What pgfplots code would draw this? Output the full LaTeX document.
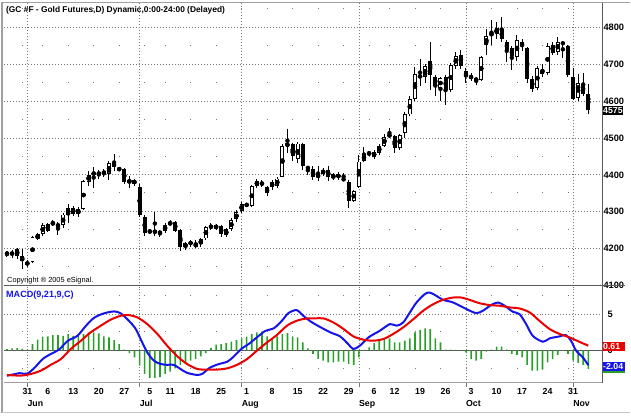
\documentclass[border=0pt]{standalone}
\usepackage{pgfplots}
\pgfplotsset{compat=1.18}
\usepackage{pgfplotstable}
\usepackage{fontspec}
\setmainfont{Liberation Sans}
\definecolor{gridgray}{RGB}{120,120,120}
\definecolor{framegray}{RGB}{160,160,160}
\definecolor{axisgray}{RGB}{90,90,90}
\definecolor{macdblue}{RGB}{20,20,235}
\definecolor{sigred}{RGB}{235,0,0}
\definecolor{histgreen}{RGB}{40,160,40}
\newcommand{\labfont}{\bfseries\fontsize{9.3}{11}\selectfont}
\newcommand{\boxfont}{\bfseries\fontsize{8.8}{10}\selectfont}
\newcommand{\datefont}{\bfseries\fontsize{8.8}{10}\selectfont}

\pgfplotstableread{
i O H L C
0 4182 4194 4176 4190
1 4190 4196 4175 4183
2 4180 4202 4172 4199
3 4180 4198 4143 4166
4 4164 4168 4150 4155
5 4163 4233 4160 4230
6 4226 4242 4222 4238
7 4240 4270 4234 4263
8 4265 4268 4244 4248
9 4266 4276 4262 4270
10 4262 4272 4236 4263
11 4263 4297 4255 4292
12 4291 4322 4268 4310
13 4311 4314 4288 4293
14 4293 4312 4285 4308
15 4308 4385 4305 4382
16 4381 4410 4370 4400
17 4402 4420 4365 4405
18 4407 4412 4390 4401
19 4410 4415 4393 4403
20 4402 4438 4385 4433
21 4432 4457 4410 4422
22 4412 4421 4410 4419
23 4416 4418 4375 4380
24 4378 4398 4365 4387
25 4387 4390 4370 4374
26 4367 4375 4285 4290
27 4286 4290 4235 4243
28 4246 4252 4241 4245
29 4245 4300 4235 4246
30 4246 4250 4232 4240
31 4247 4268 4242 4264
32 4264 4277 4260 4272
33 4271 4275 4245 4247
34 4250 4252 4192 4203
35 4203 4218 4195 4214
36 4218 4224 4205 4211
37 4214 4222 4200 4203
38 4211 4228 4204 4225
39 4227 4262 4224 4259
40 4263 4268 4250 4255
41 4255 4266 4250 4262
42 4261 4264 4232 4238
43 4236 4255 4230 4252
44 4252 4282 4248 4277
45 4279 4305 4272 4298
46 4303 4326 4295 4320
47 4319 4324 4312 4318
48 4316 4373 4313 4370
49 4370 4390 4365 4382
50 4378 4385 4368 4374
51 4367 4370 4343 4350
52 4380 4385 4360 4368
53 4369 4395 4364 4390
54 4395 4485 4393 4478
55 4477 4525 4460 4486
56 4485 4487 4437 4450
57 4442 4488 4432 4485
58 4485 4487 4412 4424
59 4420 4425 4400 4418
60 4416 4423 4385 4395
61 4393 4425 4382 4401
62 4403 4418 4398 4413
63 4412 4425 4382 4395
64 4391 4405 4385 4401
65 4401 4408 4385 4393
66 4388 4406 4384 4387
67 4381 4386 4310 4330
68 4330 4358 4325 4355
69 4367 4455 4365 4436
70 4437 4475 4435 4457
71 4458 4465 4450 4459
72 4449 4467 4443 4462
73 4460 4485 4455 4478
74 4478 4510 4475 4503
75 4506 4527 4500 4508
76 4506 4508 4460 4473
77 4474 4512 4468 4508
78 4514 4570 4500 4565
79 4564 4613 4560 4605
80 4606 4693 4600 4674
81 4667 4714 4642 4668
82 4667 4700 4650 4696
83 4708 4760 4631 4672
84 4667 4670 4615 4642
85 4636 4667 4600 4663
86 4666 4670 4590 4630
87 4630 4705 4625 4698
88 4695 4735 4688 4722
89 4726 4738 4688 4695
90 4681 4690 4650 4666
91 4669 4676 4655 4663
92 4655 4666 4645 4663
93 4658 4722 4655 4720
94 4753 4795 4726 4777
95 4781 4820 4753 4783
96 4782 4815 4770 4798
97 4796 4830 4760 4768
98 4760 4767 4707 4740
99 4744 4751 4685 4722
100 4720 4780 4710 4766
101 4762 4768 4737 4749
102 4744 4747 4650 4661
103 4661 4668 4624 4634
104 4636 4695 4630 4690
105 4686 4700 4665 4675
106 4678 4757 4670 4750
107 4753 4762 4725 4731
108 4734 4775 4725 4760
109 4760 4764 4718 4755
110 4749 4752 4666 4672
111 4666 4690 4602 4606
112 4609 4675 4601 4650
113 4647 4677 4614 4620
114 4620 4647 4565 4575
}\candles

\pgfplotstableread{
i h
0 0.15
1 0.27
2 0.3
3 0.2
4 0.1
5 0.87
6 1.47
7 1.88
8 1.93
9 2.1
10 2.1
11 2.0
12 2.25
13 2.0
14 2.0
15 2.25
16 2.48
17 2.48
18 2.34
19 1.93
20 1.79
21 1.42
22 0.87
23 0.1
24 -0.37
25 -0.96
26 -2.1
27 -3.26
28 -3.8
29 -3.85
30 -3.7
31 -3.26
32 -2.94
33 -2.48
34 -2.0
35 -1.74
36 -1.42
37 -1.19
38 -0.83
39 -0.37
40 0.32
41 0.78
42 0.87
43 1.0
44 1.19
45 1.42
46 1.65
47 1.88
48 2.25
49 2.48
50 2.57
51 1.93
52 1.65
53 1.93
54 2.25
55 2.39
56 1.93
57 1.79
58 1.1
59 0.28
60 -0.5
61 -1.19
62 -1.42
63 -1.65
64 -1.65
65 -1.56
66 -1.56
67 -1.88
68 -2.0
69 -0.96
70 0.05
71 0.41
72 1.0
73 1.33
74 1.56
75 1.65
76 1.1
77 1.1
78 1.33
79 1.65
80 2.48
81 2.84
82 3.03
83 2.94
84 1.65
85 1.1
86 0.09
87 0.09
88 0.05
89 0.02
90 -0.28
91 -1.19
92 -1.42
93 -1.19
94 -0.18
95 0.09
96 0.5
97 0.5
98 0.09
99 -0.5
100 -0.64
101 -0.96
102 -2.0
103 -2.8
104 -2.8
105 -2.66
106 -1.65
107 -1.19
108 -0.64
109 -0.05
110 -0.5
111 -1.42
112 -1.74
113 -2.0
114 -2.57
}\hist

\pgfplotstableread{
x y
0 -3.5
1.4 -3.3
2.4 -3.15
4 -3.2
5.4 -2.4
7 -1.2
8.6 -0.5
10.2 0.1
11.9 1.3
13.8 2.0
15.5 3.4
17.1 4.5
19 5.1
21 5.37
22.3 5.1
23.9 4.08
25.2 3.0
26.2 1.56
27.5 -0.28
28.8 -1.42
30.1 -1.88
31.4 -2.0
32.7 -2.0
34.0 -2.57
35.3 -3.1
37.3 -3.4
38.4 -3.2
39.6 -2.48
41.2 -1.97
43.2 -1.56
44.5 -0.83
46.1 0.28
47.4 0.87
49 1.79
50.7 2.7
52.3 3.03
53.9 4.08
55.2 5.14
56.8 5.55
58.1 4.77
59.5 4.0
61.2 3.3
63.4 2.48
65.3 1.93
66.9 0.87
67.9 0.18
69.2 0.64
70.9 1.79
73.1 2.7
75.1 3.62
76.4 3.4
77.7 3.85
79 5.23
80.3 6.6
81.9 7.75
82.9 7.98
84.2 7.52
85.5 6.97
87.5 6.6
90.1 5.69
92 5.14
93.3 5.46
95 6.28
96.3 6.6
97.6 6.15
99.2 5.32
100.5 5.0
101.8 3.62
103.1 2.0
105.1 1.19
106.4 1.65
108.4 1.93
109.6 2.1
110.6 1.33
111.6 -0.05
112.9 -0.96
114 -2.04
}\macd

\pgfplotstableread{
x y
0 -3.4
2.7 -3.49
4.7 -3.26
6.65 -2.8
8.6 -2.0
10.6 -1.19
12.5 0.18
14.5 1.33
16.4 2.48
18.4 3.4
20.3 4.22
22.3 4.77
23.9 4.86
25.6 4.54
27.5 3.62
29.5 2.25
31.4 0.64
33.4 -0.83
35.3 -1.88
37.3 -2.57
39.2 -2.66
41.2 -2.66
43.2 -2.48
45.1 -2.0
47.1 -1.19
49 -0.05
51 1.1
52.9 2.1
54.9 3.4
56.8 4.08
58.8 4.4
60.5 4.42
62.1 4.4
64 3.85
66 2.94
67.9 1.93
69.9 1.47
71.8 1.33
73.8 1.56
75.7 2.25
77.7 3.17
79.7 4.31
81.6 5.46
83.6 6.38
85.5 6.97
87.5 7.29
89.1 7.29
90.7 6.97
92.7 6.5
94.7 6.24
96.6 6.15
98.6 5.92
100.5 5.78
102.5 5.23
104.4 4.08
106.4 2.94
108.4 2.25
110.3 1.79
112.2 1.19
114 0.64
}\signal

\begin{document}
\begin{tikzpicture}[x=1pt,y=1pt]
\path (0,0) rectangle (631,417);

% ---------- price panel ----------
\begin{axis}[
  at={(3pt,131pt)}, anchor=south west, scale only axis,
  width=600pt, height=283pt,
  xmin=-0.59, xmax=116.74, ymin=4100, ymax=4867,
  clip=false,
  axis line style={draw=none},
  tick style={draw=none},
  xtick={4,26,46,69,90,111}, xticklabels={},
  minor xtick={3,7,12,17,22,27,31,36,41,46,51,56,61,66,71,75,80,85,90,95,100,105,110},
  xmajorgrids, xminorgrids, ymajorgrids,
  major x grid style={gridgray, line width=0.7pt, dash pattern=on 0.7pt off 2.3pt},
  minor x grid style={gridgray, line width=0.8pt, dash pattern=on 0.8pt off 36.097pt, dash phase=18.45pt},
  major y grid style={gridgray, line width=0.7pt, dash pattern=on 0.7pt off 2.3pt},
  ytick={4100,4200,4300,4400,4500,4600,4700,4800},
  yticklabel pos=right,
  yticklabel style={anchor=west, inner sep=0pt, xshift=1pt, font=\labfont},
  /pgf/number format/assume math mode=true,
  /pgf/number format/1000 sep={},
]
% wicks
\addplot[only marks, mark=none,
  error bars/.cd, y dir=both, y explicit, error mark=none,
  error bar style={black, line width=1pt}]
  table[x=i, y expr={(\thisrow{H}+\thisrow{L})/2}, y error expr={(\thisrow{H}-\thisrow{L})/2}] {\candles};
% bodies (outline / filled)
\addplot[only marks, mark=none,
  error bars/.cd, y dir=both, y explicit, error mark=none,
  error bar style={black, line width=4pt}]
  table[x=i, y expr={(\thisrow{O}+\thisrow{C})/2}, y error expr={max(abs(\thisrow{C}-\thisrow{O})/2,0.8)}] {\candles};
% hollow interiors of up candles
\addplot[only marks, mark=none, restrict y to domain=4000:5000,
  error bars/.cd, y dir=both, y explicit, error mark=none,
  error bar style={white, line width=2.2pt}]
  table[x=i, y expr={\thisrow{C}>\thisrow{O} ? (\thisrow{O}+\thisrow{C})/2 : 0},
        y error expr={max(abs(\thisrow{C}-\thisrow{O})/2-2.44,0.01)}] {\candles};
\node[fill=black, text=white, font=\boxfont, anchor=west, inner xsep=0.6pt, inner ysep=1.3pt]
  at (axis cs:116.74,4575) {4575};
\end{axis}

% ---------- MACD panel ----------
\begin{axis}[
  at={(3pt,33pt)}, anchor=south west, scale only axis,
  width=600pt, height=98pt,
  xmin=-0.59, xmax=116.74, ymin=-4.5, ymax=8.99,
  clip=false,
  axis line style={draw=none},
  xtick={4,26,46,69,90,111}, xticklabels={},
  xtick pos=left, tick align=outside, major tick length=4pt,
  xtick style={draw=gridgray, line width=0.7pt},
  ytick style={draw=none},
  minor tick length=0pt,
  minor xtick={3,7,12,17,22,27,31,36,41,46,51,56,61,66,71,75,80,85,90,95,100,105,110},
  xmajorgrids, xminorgrids, ymajorgrids,
  major x grid style={gridgray, line width=0.7pt, dash pattern=on 0.7pt off 2.3pt},
  minor x grid style={gridgray, line width=0.8pt, dash pattern=on 0.8pt off 35.52pt, dash phase=21.79pt},
  major y grid style={gridgray, line width=0.7pt, dash pattern=on 0.7pt off 2.3pt},
  ytick={0,5},
  yticklabel pos=right,
  yticklabel style={anchor=west, inner sep=0pt, xshift=1pt, font=\labfont},
  extra x ticks={4,8,13,18,23,28,32,37,42,47,52,57,62,67,72,76,81,86,91,96,101,106,111},
  extra x tick labels={31,6,13,20,27,5,11,18,25,1,8,15,22,29,6,12,19,26,3,10,17,24,31},
  extra x tick style={major tick length=0pt, grid=none},
  xticklabel style={font=\datefont, anchor=base, yshift=-11.3pt},
  /pgf/number format/assume math mode=true,
]
\draw[axisgray, line width=0.8pt] (axis cs:-0.59,0) -- (axis cs:116.74,0);
\addplot[ybar, bar width=1.6pt, bar shift=0pt, fill=histgreen, draw=none] table[x=i, y=h] {\hist};
\addplot[macdblue, line width=2pt, smooth, mark=none] table[x=x, y=y] {\macd};
\addplot[sigred, line width=2pt, smooth, mark=none] table[x=x, y=y] {\signal};
\node[fill=histgreen, text=white, font=\boxfont, anchor=west, inner xsep=0.6pt, inner ysep=1.3pt, text width=21pt]
  at (axis cs:116.74,-2.57) {-2.57};
\node[fill=sigred, text=white, font=\boxfont, anchor=west, inner xsep=0.6pt, inner ysep=1.3pt, text width=21pt]
  at (axis cs:116.74,0.5) {0.61};
\node[fill=macdblue, text=white, font=\boxfont, anchor=west, inner xsep=0.6pt, inner ysep=1.3pt, text width=21pt]
  at (axis cs:116.74,-2.2) {-2.04};
\node[anchor=base west, inner sep=0pt, font=\datefont, yshift=-23.5pt] at (axis cs:4,-4.5) {Jun};
\node[anchor=base west, inner sep=0pt, font=\datefont, yshift=-23.5pt] at (axis cs:26,-4.5) {Jul};
\node[anchor=base west, inner sep=0pt, font=\datefont, yshift=-23.5pt] at (axis cs:46,-4.5) {Aug};
\node[anchor=base west, inner sep=0pt, font=\datefont, yshift=-23.5pt] at (axis cs:69,-4.5) {Sep};
\node[anchor=base west, inner sep=0pt, font=\datefont, yshift=-23.5pt] at (axis cs:90,-4.5) {Oct};
\node[anchor=base west, inner sep=0pt, font=\datefont, yshift=-23.5pt] at (axis cs:111,-4.5) {Nov};
\end{axis}

% ---------- frame and texts ----------
\draw[framegray, line width=2pt] (1.5,3) -- (1.5,415);
\draw[framegray, line width=1.5pt] (1,414.5) -- (631,414.5);
\draw[axisgray, line width=1pt] (3,131) -- (626,131);
\draw[framegray, line width=1pt] (3,33) -- (603,33);
\draw[axisgray, line width=1pt] (603,33) -- (603,414);
\draw[framegray!60, line width=1pt] (1,3) -- (631,3);

\node[anchor=base west, inner sep=0pt, font=\bfseries\fontsize{8.4}{10}\selectfont] at (5,404)
  {(GC \#F - Gold Futures,D) Dynamic,0:00-24:00 (Delayed)};
\node[anchor=base west, inner sep=0pt, font=\fontsize{7.4}{9}\selectfont] at (6,134)
  {Copyright ® 2005 eSignal.};
\node[anchor=base west, inner sep=0pt, text=macdblue, font=\bfseries\fontsize{9.1}{11}\selectfont] at (5,119)
  {MACD(9,21,9,C)};
\end{tikzpicture}
\end{document}
